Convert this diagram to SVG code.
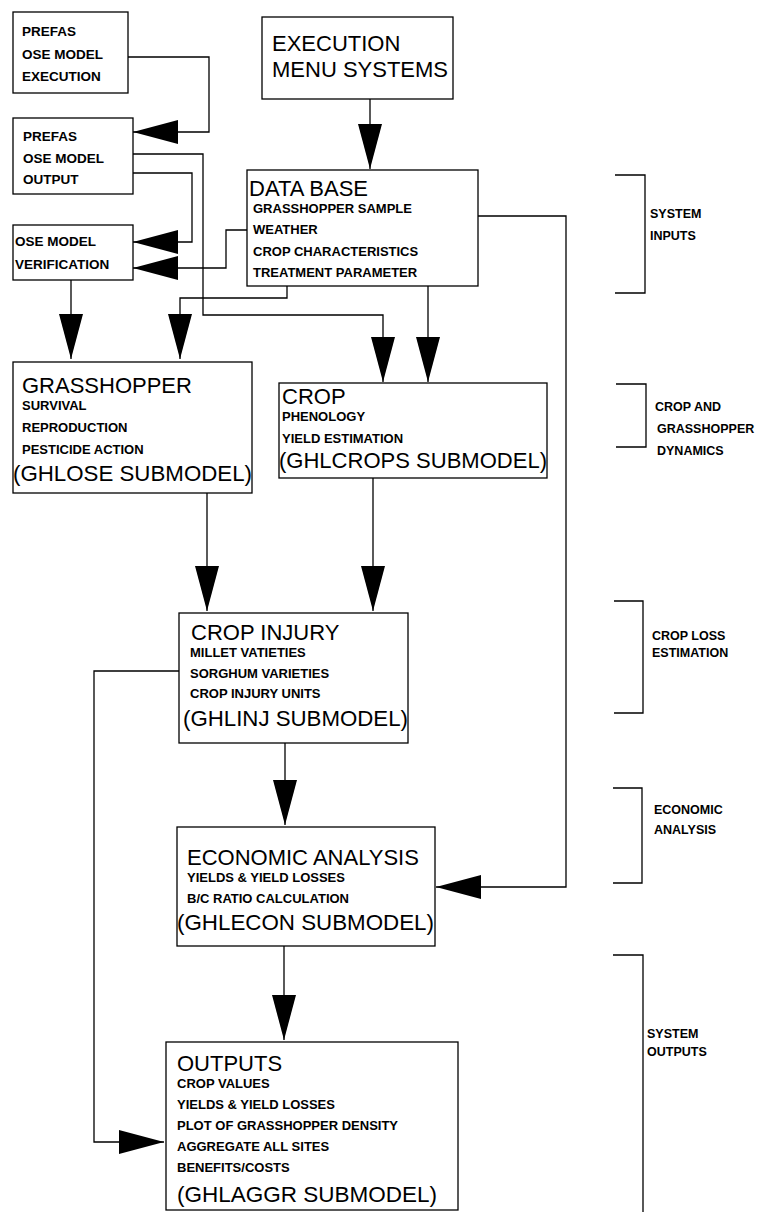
<svg xmlns="http://www.w3.org/2000/svg" width="767" height="1212" viewBox="0 0 767 1212">
<style>
.box{fill:#fff;stroke:#000;stroke-width:1.3}
.ln{fill:none;stroke:#000;stroke-width:1.3}
.t{font-family:"Liberation Sans",Arial,sans-serif;font-size:22px;fill:#000}
.s{font-family:"Liberation Sans",Arial,sans-serif;font-size:13px;font-weight:bold;fill:#000}
.m{font-family:"Liberation Sans",Arial,sans-serif;font-size:13.5px;font-weight:bold;fill:#000}
.b{font-family:"Liberation Sans",Arial,sans-serif;font-size:12.5px;font-weight:bold;fill:#000}
</style>
<defs>
<marker id="ah" markerUnits="userSpaceOnUse" markerWidth="46" markerHeight="26" refX="45" refY="12" orient="auto" viewBox="0 0 46 26">
<path d="M0,0 L45,12 L0,24 Z" fill="#000"/>
</marker>
</defs>
<rect width="767" height="1212" fill="#fff"/>
<g id="connectors">
<path class="ln" d="M128,57 H209 V132 H133" marker-end="url(#ah)"/>
<path class="ln" d="M133,154 H203 V315 H383 V382" marker-end="url(#ah)"/>
<path class="ln" d="M133,173 H192 V242 H133" marker-end="url(#ah)"/>
<path class="ln" d="M247,230 H226 V268 H133" marker-end="url(#ah)"/>
<path class="ln" d="M287,286 V298 H180 V359" marker-end="url(#ah)"/>
<path class="ln" d="M71,280 V359" marker-end="url(#ah)"/>
<path class="ln" d="M370,99 V169" marker-end="url(#ah)"/>
<path class="ln" d="M428,286 V382" marker-end="url(#ah)"/>
<path class="ln" d="M478,216 H566 V887 H436" marker-end="url(#ah)"/>
<path class="ln" d="M207,493 V611" marker-end="url(#ah)"/>
<path class="ln" d="M373,478 V611" marker-end="url(#ah)"/>
<path class="ln" d="M179,671 H94 V1142 H164" marker-end="url(#ah)"/>
<path class="ln" d="M285,743 V825" marker-end="url(#ah)"/>
<path class="ln" d="M284,946 V1040" marker-end="url(#ah)"/>
</g>
<g id="prefas-execution">
<rect class="box" x="13" y="12" width="115" height="81"/>
<text class="m" x="22" y="36">PREFAS</text>
<text class="m" x="22" y="59">OSE MODEL</text>
<text class="m" x="22" y="81">EXECUTION</text>
</g>
<g id="prefas-output">
<rect class="box" x="13" y="118" width="120" height="76"/>
<text class="m" x="23" y="141">PREFAS</text>
<text class="m" x="23" y="163">OSE MODEL</text>
<text class="m" x="23" y="184">OUTPUT</text>
</g>
<g id="ose-verification">
<rect class="box" x="13" y="225" width="120" height="55"/>
<text class="m" x="15" y="246">OSE MODEL</text>
<text class="m" x="15" y="269">VERIFICATION</text>
</g>
<g id="execution-menu">
<rect class="box" x="262" y="17" width="191" height="82"/>
<text class="t" x="272" y="51">EXECUTION</text>
<text class="t" x="272" y="77">MENU SYSTEMS</text>
</g>
<g id="data-base">
<rect class="box" x="247" y="170" width="231" height="116"/>
<text class="t" x="249" y="196">DATA BASE</text>
<text class="s" x="253" y="213">GRASSHOPPER SAMPLE</text>
<text class="s" x="253" y="234">WEATHER</text>
<text class="s" x="253" y="256">CROP CHARACTERISTICS</text>
<text class="s" x="253" y="277">TREATMENT PARAMETER</text>
</g>
<g id="grasshopper">
<rect class="box" x="13" y="362" width="239" height="131"/>
<text class="t" x="22" y="393">GRASSHOPPER</text>
<text class="s" x="22" y="410">SURVIVAL</text>
<text class="s" x="22" y="432">REPRODUCTION</text>
<text class="s" x="22" y="454">PESTICIDE ACTION</text>
<text class="t" x="13" y="481" textLength="239" lengthAdjust="spacingAndGlyphs">(GHLOSE SUBMODEL)</text>
</g>
<g id="crop">
<rect class="box" x="279" y="383" width="268" height="95"/>
<text class="t" x="282" y="404">CROP</text>
<text class="s" x="282" y="421">PHENOLOGY</text>
<text class="s" x="282" y="443">YIELD ESTIMATION</text>
<text class="t" x="279" y="468" textLength="268" lengthAdjust="spacingAndGlyphs">(GHLCROPS SUBMODEL)</text>
</g>
<g id="crop-injury">
<rect class="box" x="179" y="613" width="229" height="130"/>
<text class="t" x="191" y="640">CROP INJURY</text>
<text class="s" x="190" y="657">MILLET VATIETIES</text>
<text class="s" x="190" y="678">SORGHUM VARIETIES</text>
<text class="s" x="190" y="698">CROP INJURY UNITS</text>
<text class="t" x="183" y="726" textLength="225" lengthAdjust="spacingAndGlyphs">(GHLINJ SUBMODEL)</text>
</g>
<g id="economic-analysis">
<rect class="box" x="177" y="827" width="258" height="119"/>
<text class="t" x="187" y="865">ECONOMIC ANALYSIS</text>
<text class="s" x="187" y="882">YIELDS &amp; YIELD LOSSES</text>
<text class="s" x="187" y="903">B/C RATIO CALCULATION</text>
<text class="t" x="177" y="930" textLength="257" lengthAdjust="spacingAndGlyphs">(GHLECON SUBMODEL)</text>
</g>
<g id="outputs">
<rect class="box" x="166" y="1042" width="292" height="168"/>
<text class="t" x="177" y="1071">OUTPUTS</text>
<text class="s" x="177" y="1088">CROP VALUES</text>
<text class="s" x="177" y="1109">YIELDS &amp; YIELD LOSSES</text>
<text class="s" x="177" y="1130">PLOT OF GRASSHOPPER DENSITY</text>
<text class="s" x="177" y="1151">AGGREGATE ALL SITES</text>
<text class="s" x="177" y="1172">BENEFITS/COSTS</text>
<text class="t" x="177" y="1202" textLength="260" lengthAdjust="spacingAndGlyphs">(GHLAGGR SUBMODEL)</text>
</g>
<g id="bracket-inputs">
<path class="ln" d="M615,175 H645 V293 H615"/>
<text class="b" x="650" y="218">SYSTEM</text>
<text class="b" x="650" y="240">INPUTS</text>
</g>
<g id="bracket-dynamics">
<path class="ln" d="M616,384 H646 V447 H616"/>
<text class="b" x="655" y="411">CROP AND</text>
<text class="b" x="657" y="433">GRASSHOPPER</text>
<text class="b" x="657" y="455">DYNAMICS</text>
</g>
<g id="bracket-croploss">
<path class="ln" d="M614,601 H643 V713 H614"/>
<text class="b" x="652" y="640">CROP LOSS</text>
<text class="b" x="652" y="657">ESTIMATION</text>
</g>
<g id="bracket-economic">
<path class="ln" d="M613,788 H642 V883 H613"/>
<text class="b" x="654" y="814">ECONOMIC</text>
<text class="b" x="654" y="834">ANALYSIS</text>
</g>
<g id="bracket-outputs">
<path class="ln" d="M613,955 H643 V1212"/>
<text class="b" x="647" y="1038">SYSTEM</text>
<text class="b" x="647" y="1056">OUTPUTS</text>
</g>
</svg>
